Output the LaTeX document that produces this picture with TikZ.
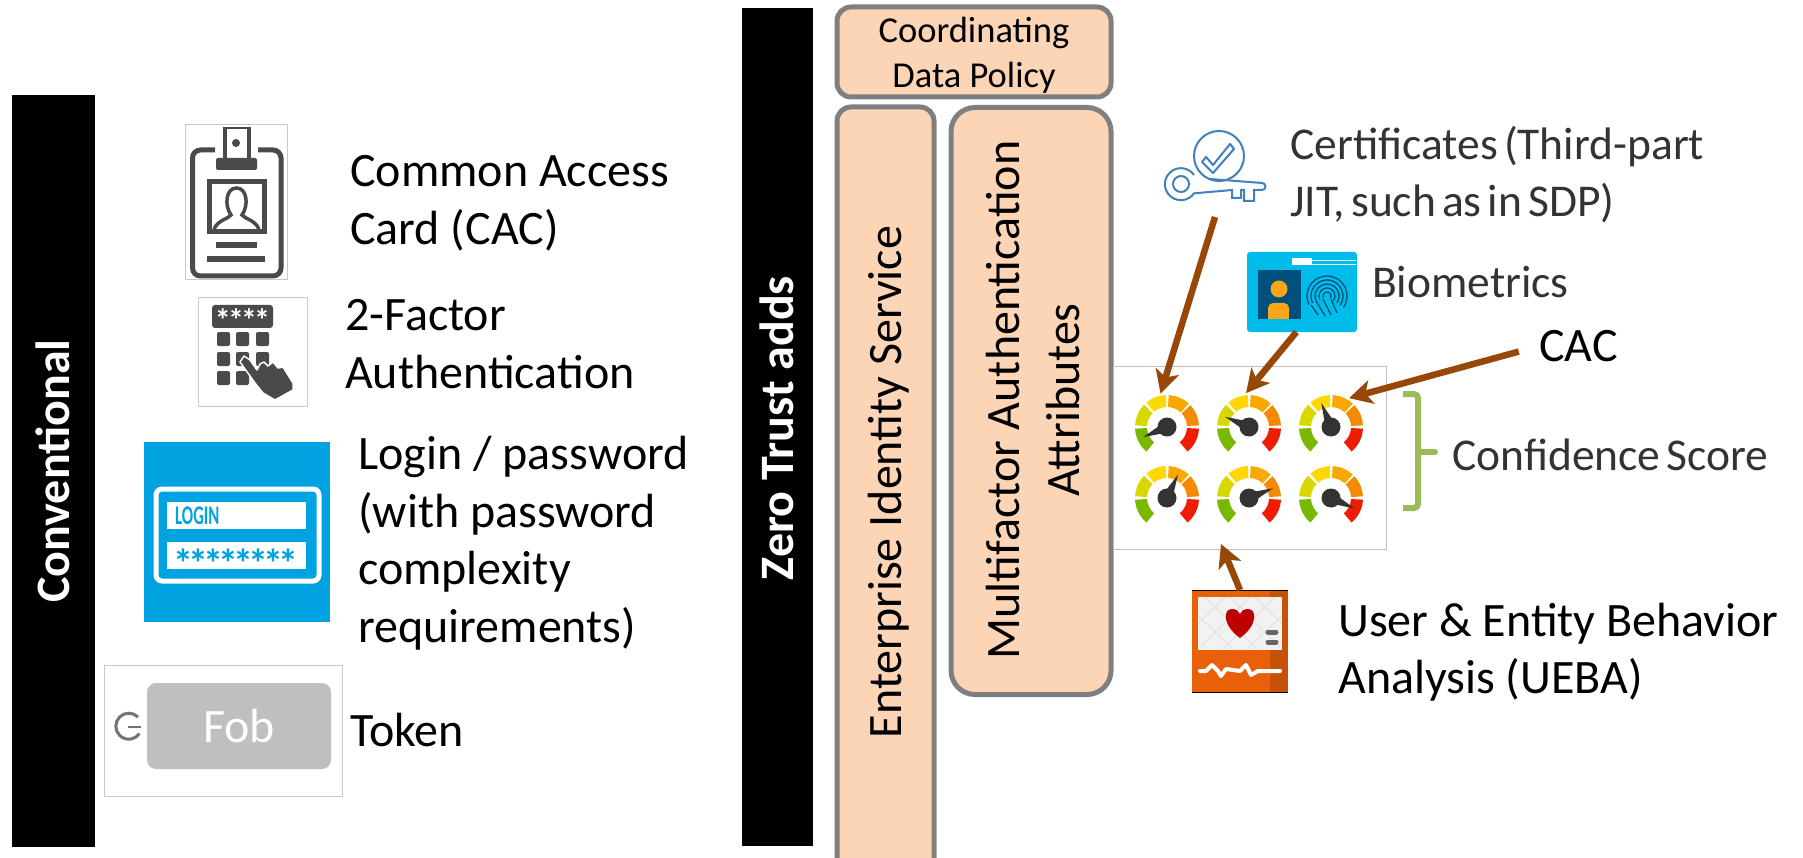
\documentclass[tikz,border=0pt]{standalone}
\usepackage{fontspec}
\setmainfont{Carlito}
\newfontfamily\softfont[WordSpace=0.6]{Carlito}
\usetikzlibrary{arrows.meta, positioning}
\definecolor{policyfill}{HTML}{FBD5B5}
\definecolor{policyedge}{HTML}{7F7F7F}
\definecolor{iconedge}{HTML}{C8C8C8}
\definecolor{icondark}{HTML}{4A4A4A}
\definecolor{feedbrown}{HTML}{974806}
\definecolor{logincyan}{HTML}{00A2E0}
\definecolor{keyblue}{HTML}{3F80BD}
\definecolor{cardcyan}{HTML}{00BCEB}
\definecolor{cardnavy}{HTML}{004F7C}
\definecolor{cardorange}{HTML}{F9A61A}
\definecolor{monitorred}{HTML}{E8610A}
\definecolor{bracegreen}{HTML}{9BBB59}
\definecolor{softtext}{HTML}{333333}
\tikzset{
    bar/.style={fill=black, minimum width=#1, inner sep=0pt, outer sep=0pt},
    barlabel/.style={rotate=90, text=white, font=\fontsize{48}{56}\selectfont\bfseries, inner sep=0pt},
    policy/.style={draw=policyedge, fill=policyfill, line width=5pt, inner sep=0pt, outer sep=0pt},
    policytext/.style={align=center, inner sep=0pt, font=\fontsize{48}{60}\selectfont},
    lbl/.style={align=left, anchor=west, inner sep=0pt, font=\fontsize{48}{57.5}\selectfont},
    softlbl/.style={lbl, text=softtext, font=\fontsize{45.5}{57}\selectfont\softfont},
    frame/.style={draw=iconedge, line width=1pt, fill=white, inner sep=0pt, outer sep=0pt},
    holder/.style={inner sep=0pt, outer sep=0pt},
    feed/.style={draw=feedbrown, line width=6.5pt, -{Stealth[length=23pt, width=24pt, inset=6pt]}},
    gauge/.pic={
        \foreach \a/\b/\c in {183/230/7AB800, 136/177/D8D800, 92/130/FFD800, 47/87/F9A800, 3/43/F48A00, -50/-3/EE1C00}{
            \definecolor{seg}{HTML}{\c}
            \fill[seg] (\a:32) arc (\a:\b:32) -- (\b:20) arc (\b:\a:20) -- cycle;
        }
        \fill[black!80] (#1+90:5.5) -- (#1:26) -- (#1-90:5.5) -- cycle;
        \fill[black!80] (0,0) circle (9.5);
        \node[circle, minimum size=68pt, inner sep=0pt, outer sep=0pt] (-ring) at (0,0) {};
    },
}
\begin{document}
\begin{tikzpicture}[x=1pt, y=1pt]
\useasboundingbox (0,0) rectangle (1803,-858);

\node[bar=83pt, minimum height=751pt] (convbar) at (53,-471) {};
\node[barlabel] (convlabel) at (convbar) {Conventional};
\node[bar=71pt, minimum height=838pt] (ztbar) at (777,-427) {};
\node[barlabel] (ztlabel) at (777,-428) {Zero Trust adds};

\node[policy, rounded corners=14pt, minimum width=274pt, minimum height=90pt] (policybox) at (974,-52) {};
\node[policytext, font=\fontsize{36.5}{45}\selectfont] (policytext) at (974,-55) {Coordinating\\Data Policy};
\node[policy, rounded corners=14pt, minimum width=97pt, minimum height=770pt] (eisbox) at (885.5,-492) {};
\node[policytext, rotate=90] (eistext) at (889,-482) {Enterprise Identity Service};
\node[policy, rounded corners=24pt, minimum width=160pt, minimum height=587pt] (mfabox) at (1031,-401) {};
\node[policytext, rotate=90] (mfatext) at (1033,-400) {Multifactor Authentication\\Attributes};

\node[lbl] (cactext) at (350,-203.5) {Common Access\\Card (CAC)};
\node[lbl] (twotext) at (345,-344) {2-Factor\\Authentication};
\node[lbl] (logintext) at (358,-543) {Login / password\\(with password\\complexity\\requirements)};
\node[lbl] (tokentext) at (350,-730) {Token};

\node[frame, minimum width=102pt, minimum height=155pt] (cardicon) at (236,-202.5) {};
\draw[icondark, line width=5pt, rounded corners=8pt] (215,-150) -- (192.5,-150) -- (192.5,-276) -- (281,-276) -- (281,-150) -- (258,-150);
\draw[icondark, line width=4.5pt] (225,-127) -- (225,-164) (249,-164) -- (249,-127);
\draw[icondark, line width=1.5pt] (225,-128) -- (249,-128);
\fill[icondark, rounded corners=2pt] (216,-158) rectangle (257,-170);
\fill[icondark] (236,-143) circle (4);
\draw[icondark, line width=5pt] (209.5,-181.5) rectangle (264,-231.5);
\draw[icondark, line width=3.5pt] (214,-229) .. controls (218,-220) and (228,-219) .. (231,-215) .. controls (224,-205) and (226,-188) .. (236.5,-188) .. controls (247,-188) and (249,-205) .. (242,-215) .. controls (245,-219) and (255,-220) .. (259,-229);
\fill[icondark] (216,-242) rectangle (257,-248);
\fill[icondark] (207,-256) rectangle (265,-262);

\node[frame, minimum width=109pt, minimum height=108pt] (padicon) at (252.5,-352) {};
\fill[icondark, rounded corners=3pt] (212,-305) rectangle (273,-328);
\node[inner sep=0pt, anchor=base, text=white, font=\fontsize{32}{32}\selectfont\bfseries\addfontfeature{LetterSpace=-9}] (padstars) at (242.5,-331) {****};
\foreach \kx in {217,236,256}
    \foreach \ky in {332,352,371}
        \fill[icondark, rounded corners=2pt] (\kx,-\ky) rectangle ++(13,-14);
\draw[white, fill=icondark, line width=1.5pt, line join=round] (240,-362) -- (244,-356) -- (250,-360) -- (257,-370) -- (260,-364) -- (264,-362) -- (268,-366) -- (273,-362) -- (278,-368) -- (283,-367) -- (293,-383) -- (293,-390) -- (275,-400) -- (263,-393) -- (255,-383) -- cycle;

\node[holder, fill=logincyan, minimum width=186pt, minimum height=180pt] (loginicon) at (237,-532) {};
\draw[white, line width=5pt, rounded corners=6pt] (156,-489) rectangle (319,-581);
\fill[white] (167,-502) rectangle (306,-529);
\fill[white] (167,-542) rectangle (306,-569);
\node[inner sep=0pt, anchor=west, text=logincyan, font=\fontsize{27}{27}\selectfont\bfseries] (loginword) at (175,-516) {\scalebox{.62}[1]{LOGIN}};
\node[inner sep=0pt, anchor=base, text=logincyan, font=\fontsize{40}{40}\selectfont\bfseries\addfontfeature{LetterSpace=-12}] (loginstars) at (236,-577) {********};

\node[frame, minimum width=238pt, minimum height=131pt] (fobicon) at (223,-730.5) {};
\draw[black!55, line width=3pt] (138,-717) arc (45:325:13);
\draw[black!55, line width=2pt] (128,-727) -- (141,-727);
\node[holder, fill=black!25, rounded corners=9pt, minimum width=184pt, minimum height=86pt, text=white, font=\fontsize{48}{48}\selectfont] (fobbody) at (239,-726) {Fob};

\node[holder, minimum width=102pt, minimum height=92pt] (keyicon) at (1215,-171) {};
\draw[keyblue, line width=2pt] (1219,-156) circle (25);
\draw[keyblue, line width=2pt, line join=round] (1206,-157) -- (1213,-165) -- (1230,-144) -- (1234,-149) -- (1213,-173) -- (1202,-162) -- cycle;
\draw[keyblue, line width=2pt] (1181,-184) circle (8);
\draw[keyblue, line width=2pt] (1194,-175) arc (35:325:16) -- (1232,-190) -- (1232,-198) -- (1241,-198) -- (1241,-190) -- (1244,-190) -- (1244,-201) -- (1254,-201) -- (1254,-190) -- (1262,-190) arc (-90:90:3.5) -- (1210,-179);

\node[holder, fill=cardcyan, rounded corners=3pt, minimum width=110pt, minimum height=80pt] (bioicon) at (1302,-292) {};
\fill[white] (1292,-258) rectangle (1312,-265);
\draw[white, line width=.5pt] (1312,-260) -- (1356,-260) (1312,-264) -- (1356,-264);
\fill[cardnavy] (1258,-270) rectangle (1301,-319);
\fill[cardorange] (1279,-289) circle (8.5);
\fill[cardorange, rounded corners=5pt] (1268,-319) rectangle (1289,-303);
\fill[cardorange] (1268,-319) rectangle (1289,-310);
\foreach \r in {4,8,12,16,20}
    \draw[cardnavy, line width=1.3pt] (1327,-296) ++(205:\r) arc (205:-35:\r);
\draw[cardnavy, line width=1.3pt] (1311,-305) -- (1318,-315) (1316,-301) -- (1325,-316) (1323,-299) -- (1331,-315) (1331,-299) -- (1337,-313);

\node[holder, fill=monitorred, minimum width=96pt, minimum height=102pt] (uebaicon) at (1240,-641) {};
\fill[monitorred!85!black] (1270,-590) rectangle (1288,-692);
\draw[black, line width=1pt] (1192,-590) -- (1288,-590) (1192,-692) -- (1288,-692);
\fill[black!5] (1198,-597) rectangle (1282,-650);
\begin{scope}
\clip (1198,-597) rectangle (1282,-650);
\foreach \d in {1180,1205,1230,1255,1280}{
    \draw[black!12, line width=1pt] (\d,-597) -- ++(53,-53);
    \draw[black!12, line width=1pt] (\d+20,-597) -- ++(-53,-53);
}
\end{scope}
\fill[red!75!black] (1240,-638) .. controls (1222,-625) and (1223,-609) .. (1232,-609) .. controls (1236,-609) and (1239,-611) .. (1240,-614) .. controls (1241,-611) and (1244,-609) .. (1248,-609) .. controls (1257,-609) and (1258,-625) .. (1240,-638) -- cycle;
\draw[black!60, line width=5pt, line cap=round] (1268,-632) -- (1276,-632) (1268,-642) -- (1276,-642);
\draw[white, line width=4pt, line cap=round, line join=round] (1200,-671) -- (1206,-671) -- (1212,-665) -- (1218,-671) -- (1221,-676) -- (1226,-669) -- (1240,-671) -- (1246,-665) -- (1251,-675) -- (1258,-671) -- (1280,-671);

\node[frame, draw=black!25, minimum width=273pt, minimum height=183pt] (scorepanel) at (1249.5,-457.5) {};
\foreach \g/\gx/\gy/\needle in {gaugeA/1167/427/203, gaugeB/1249/427/157, gaugeC/1331/427/112, gaugeD/1167/498/65, gaugeE/1249/498/22, gaugeF/1331/498/-24}
    \pic (\g) at (\gx,-\gy) {gauge=\needle};
\coordinate (uebatip) at (1221,-544);

\node[softlbl] (certtext) at (1290,-175) {Certificates (Third-part\\JIT, such as in SDP)};
\node[softlbl] (biotext) at (1372,-282) {Biometrics};
\node[lbl] (cacshort) at (1539,-346) {CAC};
\node[softlbl] (scoretext) at (1452,-455) {Confidence Score};
\node[lbl] (uebatext) at (1338,-652) {User \& Entity Behavior\\Analysis (UEBA)};

\draw[bracegreen, line width=6pt, rounded corners=4pt] (1403,-394) -- (1418,-394) -- (1418,-508) -- (1403,-508);
\draw[bracegreen, line width=6pt, line cap=round] (1418,-452) -- (1435,-452);

\draw[feed] (keyicon.south) -- (gaugeA-ring.101);
\draw[feed] (bioicon.-98) -- (gaugeB-ring.95);
\draw[feed, shorten <=21pt] (cacshort.west) -- (gaugeC-ring.58);
\draw[feed] (uebaicon.north) -- (uebatip);
\end{tikzpicture}
\end{document}
